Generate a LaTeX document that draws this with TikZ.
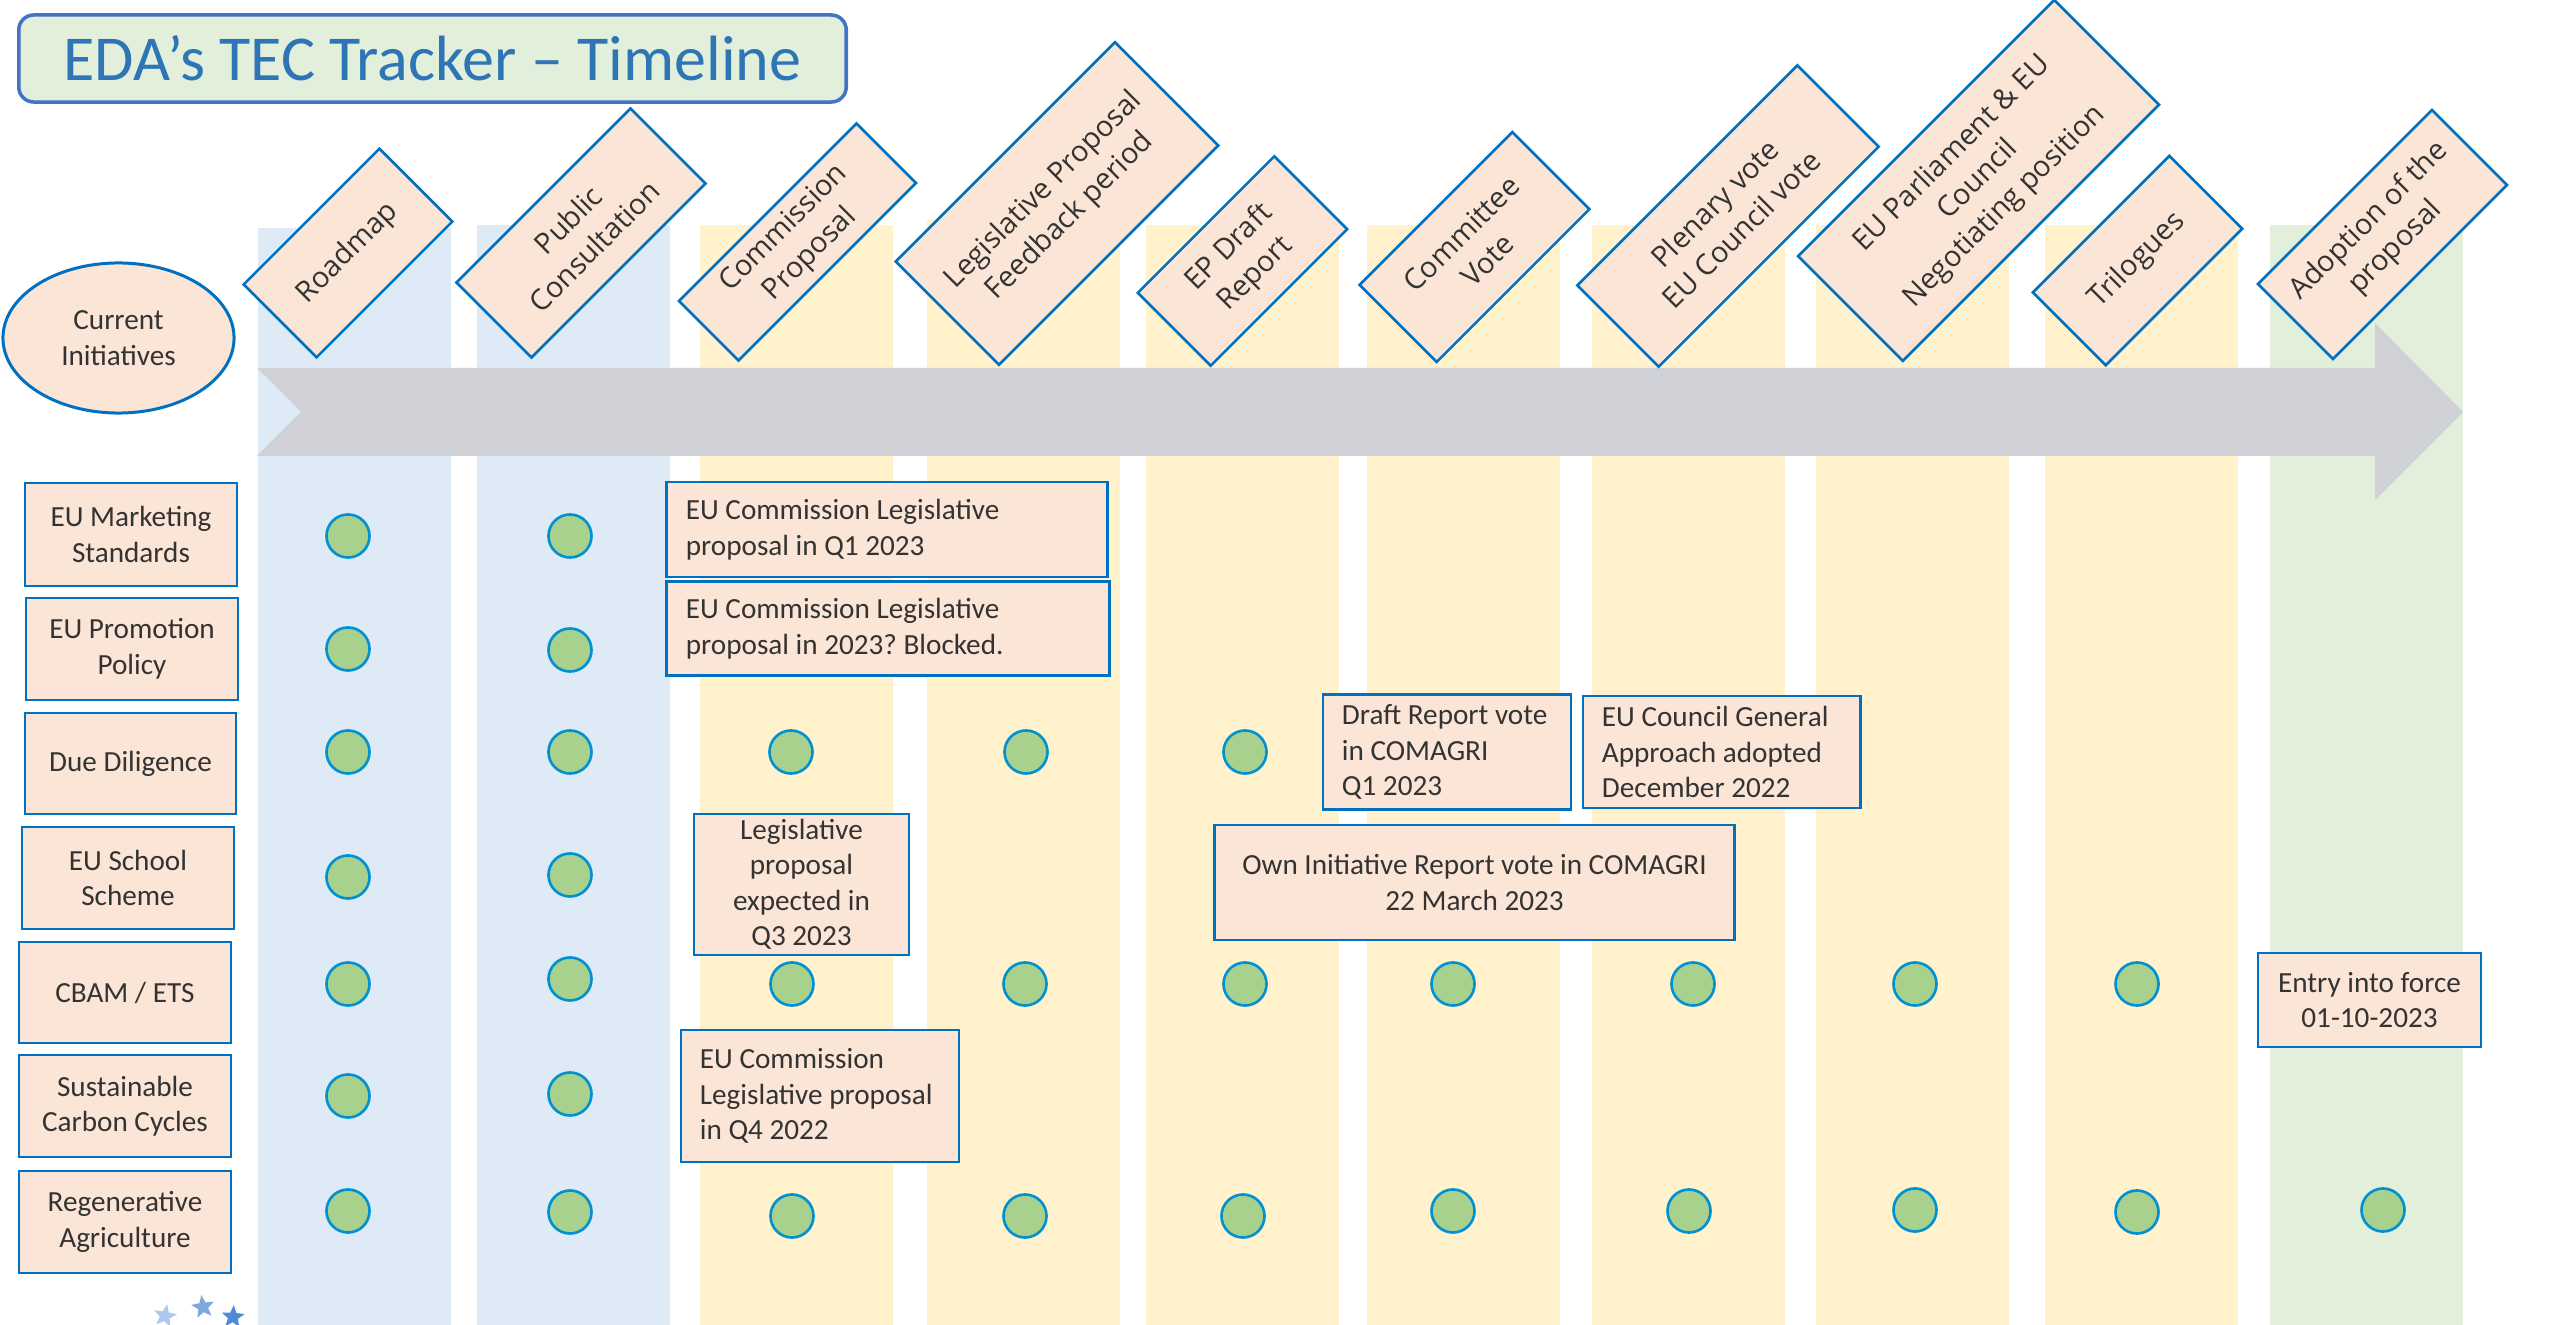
\documentclass[tikz,border=0pt]{standalone}
\usepackage{fontspec}
\setmainfont{Carlito}
\newfontfamily\stagefont{Open Sans}
\usepackage{xcolor}
\usepackage{tikz}
\usetikzlibrary{shapes.geometric}
\frenchspacing

\definecolor{stripblue}{RGB}{222,235,247}
\definecolor{stripyellow}{RGB}{255,242,204}
\definecolor{stripgreen}{RGB}{226,239,218}
\definecolor{peach}{RGB}{251,229,214}
\definecolor{boxblue}{RGB}{0,112,192}
\definecolor{dotgreen}{RGB}{169,209,142}
\definecolor{dotblue}{RGB}{0,145,210}
\definecolor{arrowgray}{RGB}{208,209,214}
\definecolor{titleblue}{RGB}{46,117,182}
\definecolor{titleborder}{RGB}{68,114,196}
\definecolor{textgray}{RGB}{51,51,51}
\definecolor{starlight}{RGB}{172,200,236}
\definecolor{starmid}{RGB}{127,168,220}
\definecolor{stardark}{RGB}{79,138,214}

\tikzset{
  initbox/.style={draw=boxblue, line width=0.8pt, fill=peach, text=textgray,
    font=\fontsize{8.3}{10.1}\selectfont, align=center, inner sep=0pt},
  notebox/.style={initbox, inner xsep=0.19cm, align=flush left},
  stagebox/.style={draw=boxblue, line width=0.75pt, fill=peach, text=textgray,
    rotate=45, align=center, inner sep=0pt,
    font=\stagefont\fontsize{8.2}{10.6}\selectfont},
  stagedot/.style={circle, draw=dotblue, line width=0.75pt, fill=dotgreen,
    minimum size=0.43cm, inner sep=0pt},
  eustar/.style={star, star points=5, star point ratio=2.3, minimum size=0.24cm,
    inner sep=0pt},
}

\begin{document}
\begin{tikzpicture}[x=0.01cm, y=-0.01cm]
        \useasboundingbox (0,0) rectangle (2560,1325);

        % columns of the timeline
        \foreach \x/\col/\top in {258/stripblue/228, 477/stripblue/225, 700/stripyellow/225,
            927/stripyellow/220, 1146/stripyellow/225, 1367/stripyellow/225, 1592/stripyellow/225,
            1816/stripyellow/225, 2045/stripyellow/225, 2270/stripgreen/225}
            \fill[\col] (\x,\top) rectangle (\x+193,1325);

        % big arrow
        \fill[arrowgray] (257,368) -- (2375,368) -- (2375,323) -- (2463,412) -- (2375,500)
            -- (2375,456) -- (257,456) -- (301,412) -- cycle;

        \node[draw=titleborder, line width=1pt, fill=stripgreen, rounded corners=0.15cm,
            minimum width=8.27cm, minimum height=0.87cm, inner sep=0pt, text=titleblue,
            font=\fontsize{18.2}{20}\selectfont] (title) at (432.5,58.5) {EDA’s TEC Tracker – Timeline};

        \node[initbox, ellipse, line width=0.85pt, minimum width=2.31cm, minimum height=1.5cm]
            (current) at (118.5,338) {Current\\Initiatives};

        % stages
        \node[stagebox, minimum width=1.92cm, minimum height=1.03cm] (roadmap) at (348,253) {Roadmap};
        \node[stagebox, minimum width=2.46cm, minimum height=1.06cm] (public) at (581,233) {Public\\Consultation};
        \node[stagebox, minimum width=2.51cm, minimum height=0.84cm] (commission) at (797.5,242) {Commission\\Proposal};
        \node[stagebox, minimum width=3.10cm, minimum height=1.46cm] (feedback) at (1057,203.5) {Legislative Proposal\\Feedback period};
        \node[stagebox, minimum width=1.93cm, minimum height=1.03cm] (epdraft) at (1242.5,261) {EP Draft\\Report};
        \node[stagebox, minimum width=2.16cm, minimum height=1.09cm] (committee) at (1474.5,247) {Committee\\Vote};
        \node[stagebox, minimum width=3.11cm, minimum height=1.15cm] (plenary) at (1728,216) {Plenary vote\\EU Council vote};
        \node[stagebox, minimum width=3.62cm, minimum height=1.48cm] (position) at (1978.5,180.5) {EU Parliament \& EU\\Council\\Negotiating position};
        \node[stagebox, minimum width=1.93cm, minimum height=1.03cm] (trilogues) at (2137.5,260.5) {Trilogues};
        \node[stagebox, minimum width=2.46cm, minimum height=1.06cm] (adoption) at (2382.5,234.5) {Adoption of the\\proposal};

        % current initiatives
        \node[initbox, minimum width=2.12cm, minimum height=1.03cm] (marketing) at (131,534.5) {EU Marketing\\Standards};
        \node[initbox, minimum width=2.12cm, minimum height=1.02cm] (promotion) at (132,649) {EU Promotion\\Policy};
        \node[initbox, minimum width=2.11cm, minimum height=1.01cm] (diligence) at (130.5,763.5) {Due Diligence};
        \node[initbox, minimum width=2.12cm, minimum height=1.02cm] (school) at (128,878) {EU School\\Scheme};
        \node[initbox, minimum width=2.12cm, minimum height=1.01cm] (cbam) at (125,992.5) {CBAM / ETS};
        \node[initbox, minimum width=2.12cm, minimum height=1.02cm] (carbon) at (125,1106) {Sustainable\\Carbon Cycles};
        \node[initbox, minimum width=2.12cm, minimum height=1.02cm] (regen) at (125,1222) {Regenerative\\Agriculture};

        % progress dots
        \foreach \x/\y [count=\i] in {348/536, 570/536,
            348/649, 570/650,
            348/752, 570/752, 791/752, 1026/752, 1245/752,
            348/877, 570/875,
            348/984, 570/979, 792/984, 1025/984, 1245/984, 1453/984, 1693/984, 1915/984, 2137/984,
            348/1096, 570/1094,
            348/1211, 570/1212, 792/1216, 1025/1216, 1243/1216, 1453/1211, 1689/1211, 1915/1210, 2137/1212, 2383/1210}
            \node[stagedot] (dot\i) at (\x,\y) {};

        % notes
        \node[notebox, text width=4.02cm, minimum height=0.95cm] (mktnote) at (887,529.5) {EU Commission Legislative\\proposal in Q1 2023};
        \node[notebox, text width=4.04cm, minimum height=0.94cm] (promonote) at (888,628.5) {EU Commission Legislative\\proposal in 2023? Blocked.};
        \node[notebox, text width=2.10cm, minimum height=1.15cm] (draftnote) at (1447,752) {Draft Report vote\\in COMAGRI\\Q1 2023};
        \node[notebox, text width=2.39cm, minimum height=1.12cm] (councilnote) at (1721.5,752) {EU Council General\\Approach adopted\\December 2022};
        \node[initbox, minimum width=2.15cm, minimum height=1.41cm] (schoolnote) at (801.5,884.5) {Legislative\\proposal\\expected in\\Q3 2023};
        \node[initbox, minimum width=5.19cm, minimum height=1.15cm] (ownnote) at (1474.5,882.5) {Own Initiative Report vote in COMAGRI\\22 March 2023};
        \node[notebox, text width=2.40cm, minimum height=1.32cm] (carbonnote) at (820,1096) {EU Commission\\Legislative proposal\\in Q4 2022};
        \node[initbox, minimum width=2.23cm, minimum height=0.94cm] (entrynote) at (2369.5,1000) {Entry into force\\01-10-2023};

        % stars
        \node[eustar, fill=starlight, rotate=-10] (star1) at (165,1316) {};
        \node[eustar, fill=starmid, rotate=8] (star2) at (203,1307) {};
        \node[eustar, fill=stardark, rotate=-4] (star3) at (233,1317) {};
\end{tikzpicture}
\end{document}
